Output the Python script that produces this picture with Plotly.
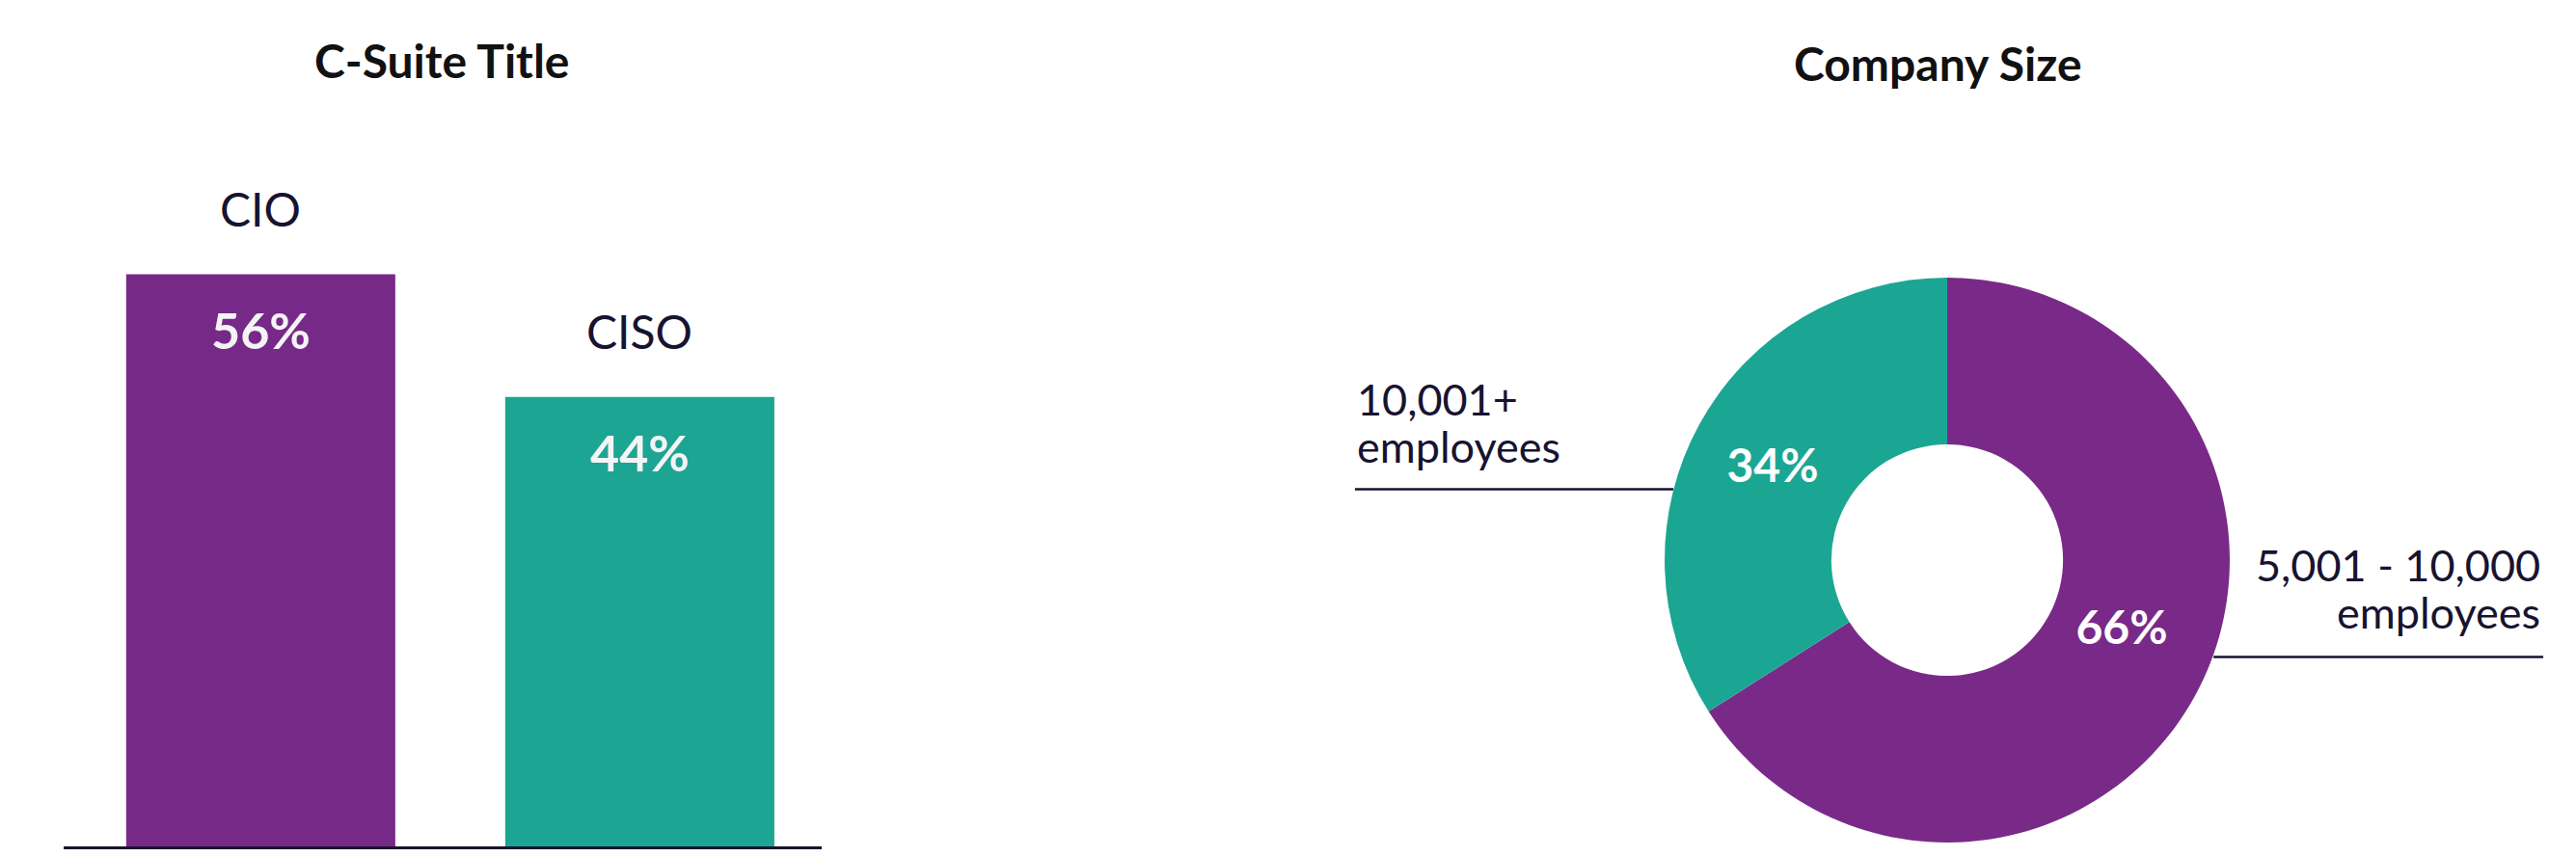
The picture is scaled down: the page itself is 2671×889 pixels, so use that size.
import plotly.graph_objects as go

# C-Suite Title (bar)
titles = ["CIO", "CISO"]
title_share = [56, 44]
bar_colors = ["#772988", "#1ca592"]

# Company Size (donut)
sizes = ["5,001 - 10,000 employees", "10,001+ employees"]
size_share = [66, 34]
donut_colors = ["#792a88", "#1ba693"]
# callout text, one entry per line
callout_left = ["10,001+", "employees"]
callout_right = ["5,001 - 10,000", "employees"]

INK = "#171330"
FONT = "Lato"

fig = go.Figure()

fig.add_trace(go.Bar(
    x=titles, y=title_share,
    marker=dict(color=bar_colors, line=dict(width=0)),
    width=0.71,
    hoverinfo="skip",
))

fig.add_trace(go.Pie(
    labels=sizes, values=size_share,
    hole=0.41,
    sort=False, direction="clockwise", rotation=0,
    marker=dict(colors=donut_colors, line=dict(width=0)),
    # empty 2nd line lifts the 66% label a bit, as in the original
    texttemplate=["%{percent}<br> ", "%{percent}"],
    textposition="inside",
    insidetextorientation="horizontal",
    textfont=dict(family=FONT, size=48, color="#ffffff", weight="bold"),
    domain=dict(x=[0.6432, 0.8626], y=[0.0259, 0.6850]),
    showlegend=False,
    hoverinfo="skip",
))

annotations = []
# names above the bars, percentages inside near the top
for name, val in zip(titles, title_share):
    annotations.append(dict(
        x=name, y=val, xref="x", yref="y", text=name, showarrow=False,
        yshift=68, xanchor="center", yanchor="middle",
        font=dict(family=FONT, size=48, color=INK),
    ))
    annotations.append(dict(
        x=name, y=val, xref="x", yref="y", text=f"{val}%", showarrow=False,
        yshift=-57, xanchor="center", yanchor="middle",
        font=dict(family=FONT, size=52, color="#f4f4f6", weight="bold"),
    ))

# panel titles
annotations.append(dict(x=0.1685, y=0.9388, xref="paper", yref="paper",
                        text="C-Suite Title", showarrow=False,
                        xanchor="center", yanchor="middle",
                        font=dict(family=FONT, size=48, color="#111111", weight="bold")))
annotations.append(dict(x=0.7492, y=0.9348, xref="paper", yref="paper",
                        text="Company Size", showarrow=False,
                        xanchor="center", yanchor="middle",
                        font=dict(family=FONT, size=48, color="#111111", weight="bold")))

# donut callouts
for line, ypos in zip(callout_left, [0.5438, 0.4886]):
    annotations.append(dict(x=0.5230, y=ypos, xref="paper", yref="paper",
                            text=line, showarrow=False,
                            xanchor="left", yanchor="middle",
                            font=dict(family=FONT, size=45, color=INK)))
for line, ypos in zip(callout_right, [0.3503, 0.2952]):
    annotations.append(dict(x=0.9840, y=ypos, xref="paper", yref="paper",
                            text=line, showarrow=False,
                            xanchor="right", yanchor="middle",
                            font=dict(family=FONT, size=45, color=INK)))

shapes = [
    dict(type="line", xref="paper", yref="paper", x0=0.5230, x1=0.6466,
         y0=0.4381, y1=0.4381, line=dict(color=INK, width=2.5)),
    dict(type="line", xref="paper", yref="paper", x0=0.8563, x1=0.9843,
         y0=0.2424, y1=0.2424, line=dict(color=INK, width=2.5)),
]

fig.update_layout(
    width=2671, height=889,
    margin=dict(l=0, r=0, t=0, b=0),
    paper_bgcolor="white", plot_bgcolor="white",
    showlegend=False,
    xaxis=dict(domain=[0.0217, 0.3160], range=[-0.52, 1.48],
               showticklabels=False, ticks="", showgrid=False, zeroline=False,
               showline=True, linecolor=INK, linewidth=3, fixedrange=True),
    yaxis=dict(domain=[0.0214, 1.0], range=[0, 82.1],
               showticklabels=False, showgrid=False, zeroline=False,
               showline=False, fixedrange=True),
    annotations=annotations,
    shapes=shapes,
)

fig.write_html("out.html")
